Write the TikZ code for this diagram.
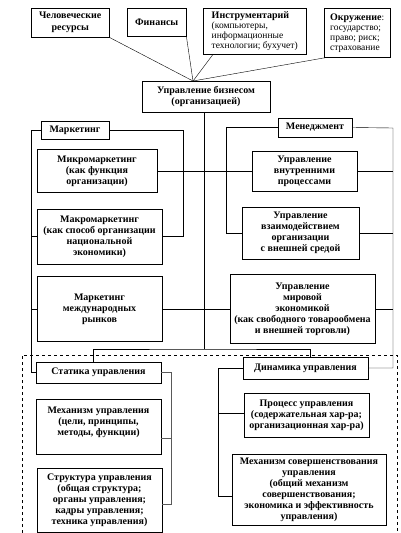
\documentclass[tikz,border=0pt]{standalone}
\usepackage{fontspec}
\setmainfont{Liberation Serif}
\usetikzlibrary{positioning, calc}

\begin{document}
\begin{tikzpicture}[x=1pt, y=-1pt,
  blk/.style={draw, align=center, inner sep=1pt, font=\fontsize{10}{11}\selectfont\bfseries},
  src/.style={draw, align=left, inner xsep=5pt, inner ysep=1.5pt, anchor=north west, font=\fontsize{9.5}{10}\selectfont},
  grp/.style={draw, align=center, inner sep=1pt, font=\fontsize{10}{11}\selectfont\bfseries}]
\useasboundingbox (0,0) rectangle (401,533);
% Resources on top
\node[src, align=center, font=\fontsize{10}{12}\selectfont\bfseries, minimum width=78, minimum height=29] (top_hr) at (31,8) {Человеческие\\ресурсы};
\node[src, align=center, font=\fontsize{10}{11}\selectfont\bfseries, minimum width=59, minimum height=28] (top_fin) at (127,8) {Финансы};
\node[src, inner xsep=7pt, minimum width=103, minimum height=46] (top_ins) at (203,8) {{\fontsize{10}{10}\selectfont\bfseries Инструментарий}\\(компьютеры,\\информационные\\технологии; бухучет)};
\node[src, inner xsep=3pt, minimum width=66, minimum height=49] (top_env) at (324,8) {{\fontsize{10}{10}\selectfont\bfseries Окружение}:\\государство;\\право; риск;\\страхование};
\node[blk, minimum width=128, minimum height=31] (ub) at (206,96.5) {Управление бизнесом\\(организацией)};
\coordinate (hub) at (193,81);
\draw (top_hr.south east) -- (hub);
\draw (top_fin.south east) -- (hub);
\draw ([xshift=10]top_ins.south west) -- (hub);
\draw ([xshift=3]top_env.south west) -- (hub);
% Marketing
\node[grp, minimum width=68, minimum height=18] (mk_0) at (75,130) {Маркетинг};
\node[blk, minimum width=120, minimum height=43] (mk_1) at (97,171) {Микромаркетинг\\(как функция\\организации)};
\node[blk, minimum width=125, minimum height=55] (mk_2) at (99.5,236.5) {Макромаркетинг\\(как способ организации\\национальной\\экономики)};
\node[blk, minimum width=125, minimum height=65] (mk_3) at (99.5,309) {Маркетинг\\международных\\рынков};
% Management
\node[grp, minimum width=74, minimum height=19] (mg_0) at (315,127.5) {Менеджмент};
\node[blk, minimum width=105, minimum height=40] (mg_1) at (304.5,171) {Управление\\внутренними\\процессами};
\node[blk, minimum width=117, minimum height=52] (mg_2) at (300.5,233) {Управление\\взаимодействием\\организации\\с внешней средой};
\node[blk, minimum width=145, minimum height=69] (mg_3) at (302.5,309) {Управление\\мировой\\экономикой\\(как свободного товарообмена\\и внешней торговли)};
% Statics and dynamics
\node[grp, minimum width=125, minimum height=21] (st_0) at (98.5,372.5) {Статика управления};
\node[blk, minimum width=125, minimum height=55] (st_1) at (98.5,426.5) {Механизм управления\\(цели, принципы,\\методы, функции)\\\mbox{}};
\node[blk, minimum width=125, minimum height=64] (st_2) at (99.5,500) {Структура управления\\(общая структура;\\органы управления;\\кадры управления;\\техника управления)};
\node[grp, minimum width=125, minimum height=22] (dn_0) at (305.5,368) {Динамика управления};
\node[blk, minimum width=125, minimum height=44] (dn_1) at (306.5,415) {Процесс управления\\(содержательная хар-ра;\\организационная хар-ра)};
\node[blk, minimum width=154, minimum height=71] (dn_2) at (309,489.5) {Механизм совершенствования\\управления\\(общий механизм\\совершенствования;\\экономика и эффективность\\управления)};
% Dashed frame
\draw[dashed] (22,533) |- (397,355) -- (397,533);
% Connectors
\coordinate (split) at (204,349);
\draw (ub.south -| split) -- (split);
\draw ([xshift=-5]st_0.north) |- (split) -| ([xshift=5]dn_0.north);
\draw (mk_1.east) -- (mg_1.west);
\draw (mk_3.east) -- (mg_3.west);
\draw (mk_0.west) -- ++(-10,0) |- (st_0.west);
\draw (mk_2.west) -- ++(-6,0) (mk_3.west) -- ++(-6,0);
\draw (mk_0.east) -| ([xshift=21]mk_2.east) -- (mk_2.east);
\coordinate (mgr) at (393,128);
\draw (mg_0.west) -| ([xshift=-16]mg_2.west) -- (mg_2.west);
\draw (mg_0.east) -- (mgr) |- (dn_0.east);
\draw (mg_1.east) -- (mg_1.east -| mgr) (mg_2.east) -- (mg_2.east -| mgr) (mg_3.east) -- (mg_3.east -| mgr);
\coordinate (sr) at (171,504);
\draw[black!65] (st_0.east) -| (sr) -- (sr -| st_2.east);
\draw[black!65] ([yshift=-11.5]st_1.east) -- ([yshift=-11.5]st_1.east -| sr);
\coordinate (dl) at (218,496);
\draw (dn_0.west) -| (dl) -- (dl -| dn_2.west);
\draw ([yshift=2]dn_1.west) -- ([yshift=2]dn_1.west -| dl);
\end{tikzpicture}
\end{document}
